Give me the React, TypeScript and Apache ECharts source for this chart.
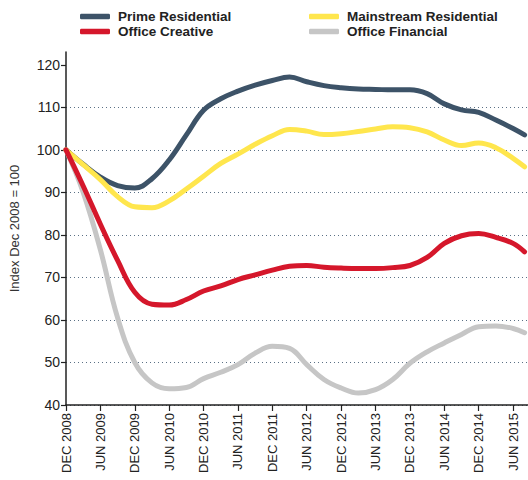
import React, { useEffect, useRef } from "react";
import * as echarts from "echarts";

const monthTicks = [0, 6, 12, 18, 24, 30, 36, 42, 48, 54, 60, 66, 72, 78];
const tickLabels = [
  "DEC 2008", "JUN 2009", "DEC 2009", "JUN 2010", "DEC 2010", "JUN 2011", "DEC 2011",
  "JUN 2012", "DEC 2012", "JUN 2013", "DEC 2013", "JUN 2014", "DEC 2014", "JUN 2015",
];
const yTicks = [40, 50, 60, 70, 80, 90, 100, 110, 120];

// months since Dec 2008 (quarterly samples)
const months = [0, 3, 6, 9, 12, 15, 18, 21, 24, 27, 30, 33, 36, 39, 42, 45, 48, 51, 54, 57, 60, 63, 66, 69, 72, 75, 78, 80];

const primeResidential = [100, 96.6, 93.6, 91.6, 91, 93.2, 97.6, 103.5, 109.3, 112, 113.8, 115.2, 116.3, 117.1, 116, 115.1, 114.6, 114.3, 114.2, 114.1, 114.1, 113.2, 110.8, 109.4, 108.8, 107, 105, 103.5];
const mainstreamResidential = [100, 96.5, 93, 89, 86.6, 86.4, 88, 90.8, 93.8, 96.8, 99, 101.3, 103.3, 104.8, 104.4, 103.6, 103.8, 104.3, 104.9, 105.4, 105.2, 104.2, 102.3, 101, 101.6, 100.5, 98, 96];
const officeCreative = [100, 91.5, 82.5, 74, 66.5, 63.7, 63.5, 64.8, 66.8, 68, 69.5, 70.6, 71.7, 72.6, 72.8, 72.4, 72.2, 72.1, 72.1, 72.3, 72.8, 74.7, 78, 79.8, 80.3, 79.4, 78, 76];
const officeFinancial = [100, 90, 76.5, 60.5, 50, 45.2, 43.8, 44.1, 46.2, 47.7, 49.5, 52.2, 53.8, 53.3, 49.5, 46, 44, 42.8, 43.6, 46, 49.8, 52.5, 54.6, 56.6, 58.4, 58.6, 58, 57];

const FONT = "Liberation Sans, Arial, Helvetica, sans-serif";

const pair = (vals: number[]) => months.map((m, i) => [m, vals[i]]);

export default function App() {
  const ref = useRef<HTMLDivElement>(null);
  useEffect(() => {
    document.body.style.margin = "0";
    if (!ref.current) return;
    const chart = echarts.init(ref.current, undefined, { renderer: "svg" });
    const lineSeries = (name: string, vals: number[], color: string) => ({
      name,
      type: "line",
      data: pair(vals),
      smooth: 0.4,
      symbol: "none",
      showSymbol: false,
      itemStyle: { color },
      lineStyle: { color, width: 5, cap: "round", join: "round" },
    });
    const legendCommon = {
      orient: "vertical",
      top: 9.5,
      padding: 0,
      itemGap: 1,
      itemWidth: 30,
      itemHeight: 5.5,
      icon: "roundRect",
      textStyle: {
        fontFamily: FONT,
        fontSize: 13.5,
        fontWeight: "bold",
        color: "#222",
        lineHeight: 12,
        padding: [0, 0, 0, 3],
      },
    };
    chart.setOption({
      animation: false,
      legend: [
        { ...legendCommon, left: 80, data: ["Prime Residential", "Office Creative"] },
        { ...legendCommon, left: 309, data: ["Mainstream Residential", "Office Financial"] },
      ],
      grid: { left: 63, right: 0, top: 52, bottom: 75 },
      xAxis: {
        type: "value",
        min: 0,
        max: 80.6,
        interval: 6,
        axisLine: { show: true, lineStyle: { color: "#222", width: 1.5 } },
        axisTick: { show: true, length: 6, customValues: monthTicks, lineStyle: { color: "#222", width: 1.2 } },
        splitLine: { show: false },
        axisLabel: {
          customValues: monthTicks,
          rotate: 90,
          fontFamily: FONT,
          fontSize: 13,
          color: "#222",
          margin: 8,
          formatter: (v: number) => {
            const i = monthTicks.indexOf(Math.round(v));
            return i >= 0 ? tickLabels[i] : "";
          },
        },
      },
      yAxis: {
        type: "value",
        min: 40,
        max: 123,
        interval: 10,
        name: "Index Dec 2008 = 100",
        nameLocation: "middle",
        nameRotate: 90,
        nameGap: 45,
        nameTextStyle: { fontFamily: FONT, fontSize: 13, color: "#333" },
        axisLine: { show: true, lineStyle: { color: "#222", width: 1.5 } },
        axisTick: { show: true, length: 5, customValues: yTicks, lineStyle: { color: "#222", width: 1.2 } },
        axisLabel: {
          customValues: yTicks,
          fontFamily: FONT,
          fontSize: 14,
          color: "#222",
          margin: 6,
        },
        splitLine: {
          show: true,
          showMaxLine: false,
          lineStyle: { color: "#5b7085", width: 1, type: [1, 3] },
        },
      },
      series: [
        lineSeries("Office Financial", officeFinancial, "#c6c6c6"),
        lineSeries("Prime Residential", primeResidential, "#3d5368"),
        lineSeries("Mainstream Residential", mainstreamResidential, "#ffe64d"),
        lineSeries("Office Creative", officeCreative, "#d5172b"),
      ],
    });
    return () => chart.dispose();
  }, []);
  return <div ref={ref} style={{ width: 528, height: 480 }} />;
}
